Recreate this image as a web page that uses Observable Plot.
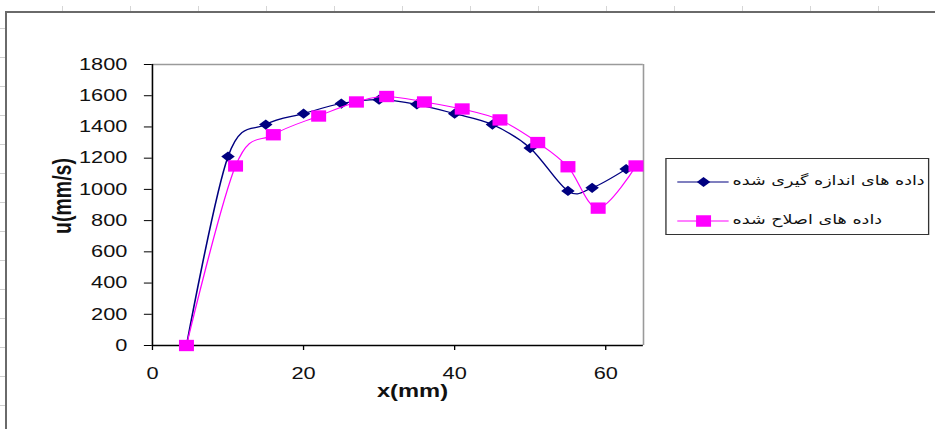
<!DOCTYPE html>
<html>
<head>
<meta charset="utf-8">
<script src="https://cdn.jsdelivr.net/npm/d3@7"></script>
<script src="https://cdn.jsdelivr.net/npm/@observablehq/plot@0.6"></script>
<style>
  html, body { margin: 0; padding: 0; background: #fff; }
  #wrap { position: relative; width: 935px; height: 429px; overflow: hidden; }
  #frame { position: absolute; left: 5px; top: 11px; width: 960px; height: 460px;
           border-left: 2px solid #6a6a6a; border-top: 2px solid #6a6a6a; }
  #ticksL { position: absolute; left: 0; top: 0; width: 5px; height: 429px;
            background: repeating-linear-gradient(to bottom, transparent 0, transparent 28px, #cfcfcf 28px, #cfcfcf 29px); }
  #ticksT { position: absolute; left: 0; top: 6px; width: 935px; height: 5px;
            background: repeating-linear-gradient(to right, transparent 0, transparent 62px, #d6d6d6 62px, #d6d6d6 63px, transparent 63px, transparent 68px); }
  /* the reference picture is stretched horizontally; draw compressed, then stretch */
  #stretch { position: absolute; left: 0; top: 0; width: 708px; height: 429px;
             transform: scaleX(1.32); transform-origin: 0 0; }
  #chart { position: absolute; left: 0; top: 0; }
  #legend { position: absolute; left: 504px; top: 158px; width: 200px; height: 77px;
            border: 1.2px solid #333; background: #fff; box-sizing: border-box; }
  .entry { position: absolute; left: 0; width: 198px; height: 20px; }
  .entry svg { position: absolute; left: 8px; top: 0; }
  .entry span { position: absolute; left: 50px; top: 1px; direction: rtl; text-align: left;
                font-family: "DejaVu Sans", sans-serif; font-size: 13.3px; color: #111; white-space: nowrap; }
</style>
</head>
<body>
<div id="wrap">
  <div id="ticksL"></div>
  <div id="ticksT"></div>
  <div id="frame"></div>
  <div id="stretch">
    <div id="chart"></div>
    <div id="legend"></div>
  </div>
</div>
<script>
// Data
const xMeasured = [4.5, 10, 15, 20, 25, 30, 35, 40, 45, 50, 55, 58.2, 62.7];
const uMeasured = [0, 1210, 1415, 1485, 1550, 1575, 1545, 1485, 1415, 1265, 990, 1010, 1130];
const xCorrected = [4.5, 11, 16, 22, 27, 31, 36, 41, 46, 51, 55, 59, 64];
const uCorrected = [0, 1150, 1350, 1470, 1560, 1595, 1560, 1515, 1445, 1300, 1145, 880, 1150];
const seriesNames = ["داده های اندازه گیری شده", "داده های اصلاح شده"];
const seriesColors = ["#000080", "#ff00ff"];
const xTicks = [0, 20, 40, 60];
const yTicks = [0, 200, 400, 600, 800, 1000, 1200, 1400, 1600, 1800];
const xLabel = "x(mm)";
const yLabel = "u(mm/s)";

const measured = xMeasured.map((x, i) => ({x, u: uMeasured[i]}));
const corrected = xCorrected.map((x, i) => ({x, u: uCorrected[i]}));

const font = "'Liberation Sans', Arial, sans-serif";

const chart = Plot.plot({
  width: 708,
  height: 429,
  marginLeft: 115,
  marginRight: 221,
  marginTop: 64,
  marginBottom: 84,
  style: {fontFamily: font, fontSize: "16.5px", color: "#000", background: "transparent", overflow: "visible"},
  x: {domain: [0, 65], ticks: xTicks, label: null},
  y: {domain: [0, 1800], ticks: yTicks, label: null},
  marks: [
    Plot.ruleY([1800], {stroke: "#9a9a9a", strokeWidth: 1.4}),
    Plot.ruleX([65], {stroke: "#9a9a9a", strokeWidth: 1.2}),
    Plot.axisX({ticks: xTicks, tickSize: 5, tickPadding: 17, stroke: "#000", strokeWidth: 1, fontSize: 16.5, fill: "#111"}),
    Plot.axisY({ticks: yTicks, tickSize: 6, tickPadding: 13, stroke: "#000", strokeWidth: 1, fontSize: 16.5, fill: "#111", tickFormat: d => String(d)}),
    Plot.ruleY([0], {stroke: "#000", strokeWidth: 1.5}),
    Plot.ruleX([0], {stroke: "#000", strokeWidth: 1.2}),
    Plot.line(measured, {x: "x", y: "u", stroke: seriesColors[0], strokeWidth: 1.2, curve: "cardinal"}),
    Plot.dot(measured, {x: "x", y: "u", symbol: "diamond2", r: 4.6, fill: seriesColors[0], stroke: "none"}),
    Plot.line(corrected, {x: "x", y: "u", stroke: seriesColors[1], strokeWidth: 1, curve: "cardinal"}),
    Plot.dot(corrected, {x: "x", y: "u", symbol: "square", r: 6.4, fill: seriesColors[1], stroke: "none"}),
    Plot.text([xLabel], {frameAnchor: "bottom", textAnchor: "middle", lineAnchor: "middle", dx: 11, dy: 46, fontWeight: "bold", fontSize: 18, fill: "#111"}),
    Plot.text([yLabel], {frameAnchor: "left", textAnchor: "middle", lineAnchor: "middle", dx: -68, dy: -9, rotate: -90, fontWeight: "bold", fontSize: 19.5, fill: "#111"})
  ]
});
document.getElementById("chart").appendChild(chart);

// Legend
const legend = document.getElementById("legend");
const sizes = [4.6, 6.4];
seriesNames.forEach((name, i) => {
  const e = document.createElement("div");
  e.className = "entry";
  e.style.top = (i === 0 ? 13 : 52) + "px";
  const svg = d3.create("svg").attr("width", 42).attr("height", 20);
  svg.append("line").attr("x1", 0).attr("x2", 39).attr("y1", 10).attr("y2", 10)
    .attr("stroke", seriesColors[i]).attr("stroke-width", 1.2);
  const sym = i === 0 ? d3.symbolDiamond2 : d3.symbolSquare;
  svg.append("path").attr("transform", "translate(20,10)")
    .attr("d", d3.symbol(sym, Math.PI * sizes[i] * sizes[i])())
    .attr("fill", seriesColors[i]);
  e.appendChild(svg.node());
  const s = document.createElement("span");
  s.textContent = name;
  e.appendChild(s);
  legend.appendChild(e);
});
</script>
</body>
</html>
